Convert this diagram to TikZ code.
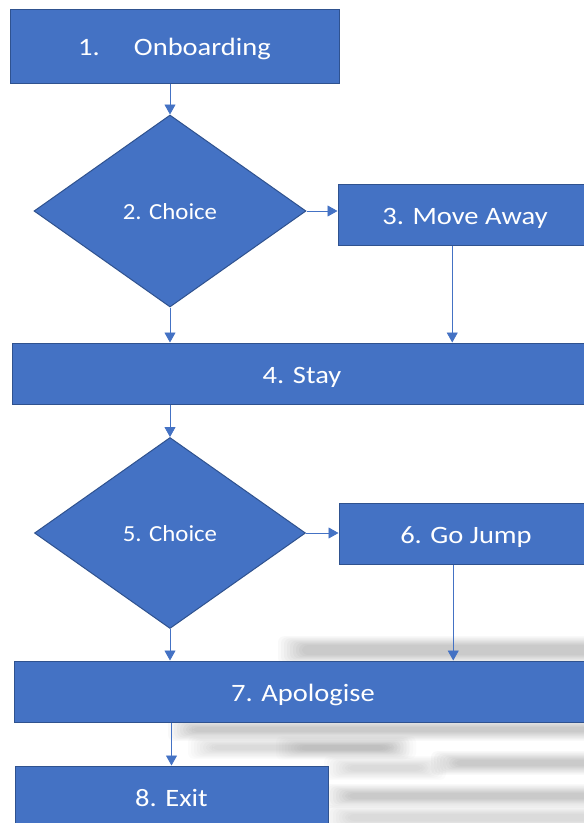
\documentclass[tikz,border=0pt]{standalone}
\usepackage{fontspec}
\setmainfont{Carlito}
\usetikzlibrary{shapes.geometric,arrows.meta,calc}

\definecolor{stepfill}{HTML}{4472C4}
\definecolor{stepline}{HTML}{2F528F}
\definecolor{flowline}{HTML}{4472C4}

% a soft grey smear: stacked translucent rectangles around a core
\newcommand\softband[5]{%
  \foreach \k in {0,...,8}{%
    \fill[black, opacity=#5, rounded corners=6pt]
      ({#1-\k*3},{#2-\k*1.1}) rectangle ({#3+\k*3},{#4+\k*1.1});
  }%
}
% labels are set a little wide
\newcommand\widelabel[1]{\scalebox{1.14}[1]{#1}}
\newcommand\choicelabel[1]{\scalebox{1.08}[1]{#1}}

\tikzset{
  stepbox/.style={rectangle, draw=stepline, line width=1pt, fill=stepfill,
    text=white, inner sep=0pt, text height=21pt, text depth=2pt,
    font=\fontsize{25}{29}\selectfont},
  choicebox/.style={diamond, draw=stepline, line width=1pt, fill=stepfill,
    text=white, inner sep=0pt, text height=18pt, text depth=2pt,
    font=\fontsize{23}{27}\selectfont},
  flow/.style={draw=flowline, line width=0.8pt,
    -{Triangle[width=11pt,length=10pt]}},
}

\begin{document}
\begin{tikzpicture}[x=1pt, y=-1pt]
\useasboundingbox (0,0) rectangle (584,823);
\clip (0,0) rectangle (584,823);
\fill[white] (0,0) rectangle (584,823);

% grey smears in the lower right
\softband{302}{645}{610}{655}{0.022}
\softband{192}{727}{610}{732}{0.022}
\softband{212}{745}{392}{750}{0.016}
\softband{300}{745}{385}{751}{0.010}
\softband{455}{760}{610}{766}{0.022}
\softband{348}{765}{422}{771}{0.014}
\softband{348}{793}{610}{799}{0.022}
\softband{348}{814}{610}{821}{0.016}

% steps
\node[stepbox, minimum width=329pt, minimum height=74pt] (b1) at (174.5,46)
  {\widelabel{1.\hspace{30pt}Onboarding}};
\node[choicebox, minimum width=272pt, minimum height=192pt] (d2) at (170,211)
  {\choicelabel{2. Choice}};
\node[stepbox, minimum width=254pt, minimum height=61pt] (b3) at (465,214.5)
  {\widelabel{3. Move Away}};
\node[stepbox, minimum width=580pt, minimum height=61pt] (b4) at (302,373.5)
  {\widelabel{4. Stay}};
\node[choicebox, minimum width=271pt, minimum height=191pt] (d5) at (170,533)
  {\choicelabel{5. Choice}};
\node[stepbox, minimum width=254pt, minimum height=61pt] (b6) at (466,533.5)
  {\widelabel{6. Go Jump}};
\node[stepbox, minimum width=578pt, minimum height=61pt] (b7) at (303,691.5)
  {\widelabel{7. Apologise}};
\node[stepbox, minimum width=313pt, minimum height=61pt] (b8) at (171.5,796.5)
  {\widelabel{8. Exit}};

% connectors
\coordinate (b3out) at ($(b3.south west)!0.45!(b3.south east)$);
\coordinate (b6out) at ($(b6.south west)!0.45!(b6.south east)$);

\draw[flow] (d2.north |- b1.south) -- (d2.north);
\draw[flow] (d2.east) -- (d2.east -| b3.west);
\draw[flow] (d2.south) -- (d2.south |- b4.north);
\draw[flow] (b3out) -- (b3out |- b4.north);
\draw[flow] (d5.north |- b4.south) -- (d5.north);
\draw[flow] (d5.east) -- (d5.east -| b6.west);
\draw[flow] (d5.south) -- (d5.south |- b7.north);
\draw[flow] (b6out) -- (b6out |- b7.north);
\draw[flow] (b8.north |- b7.south) -- (b8.north);
\end{tikzpicture}
\end{document}
